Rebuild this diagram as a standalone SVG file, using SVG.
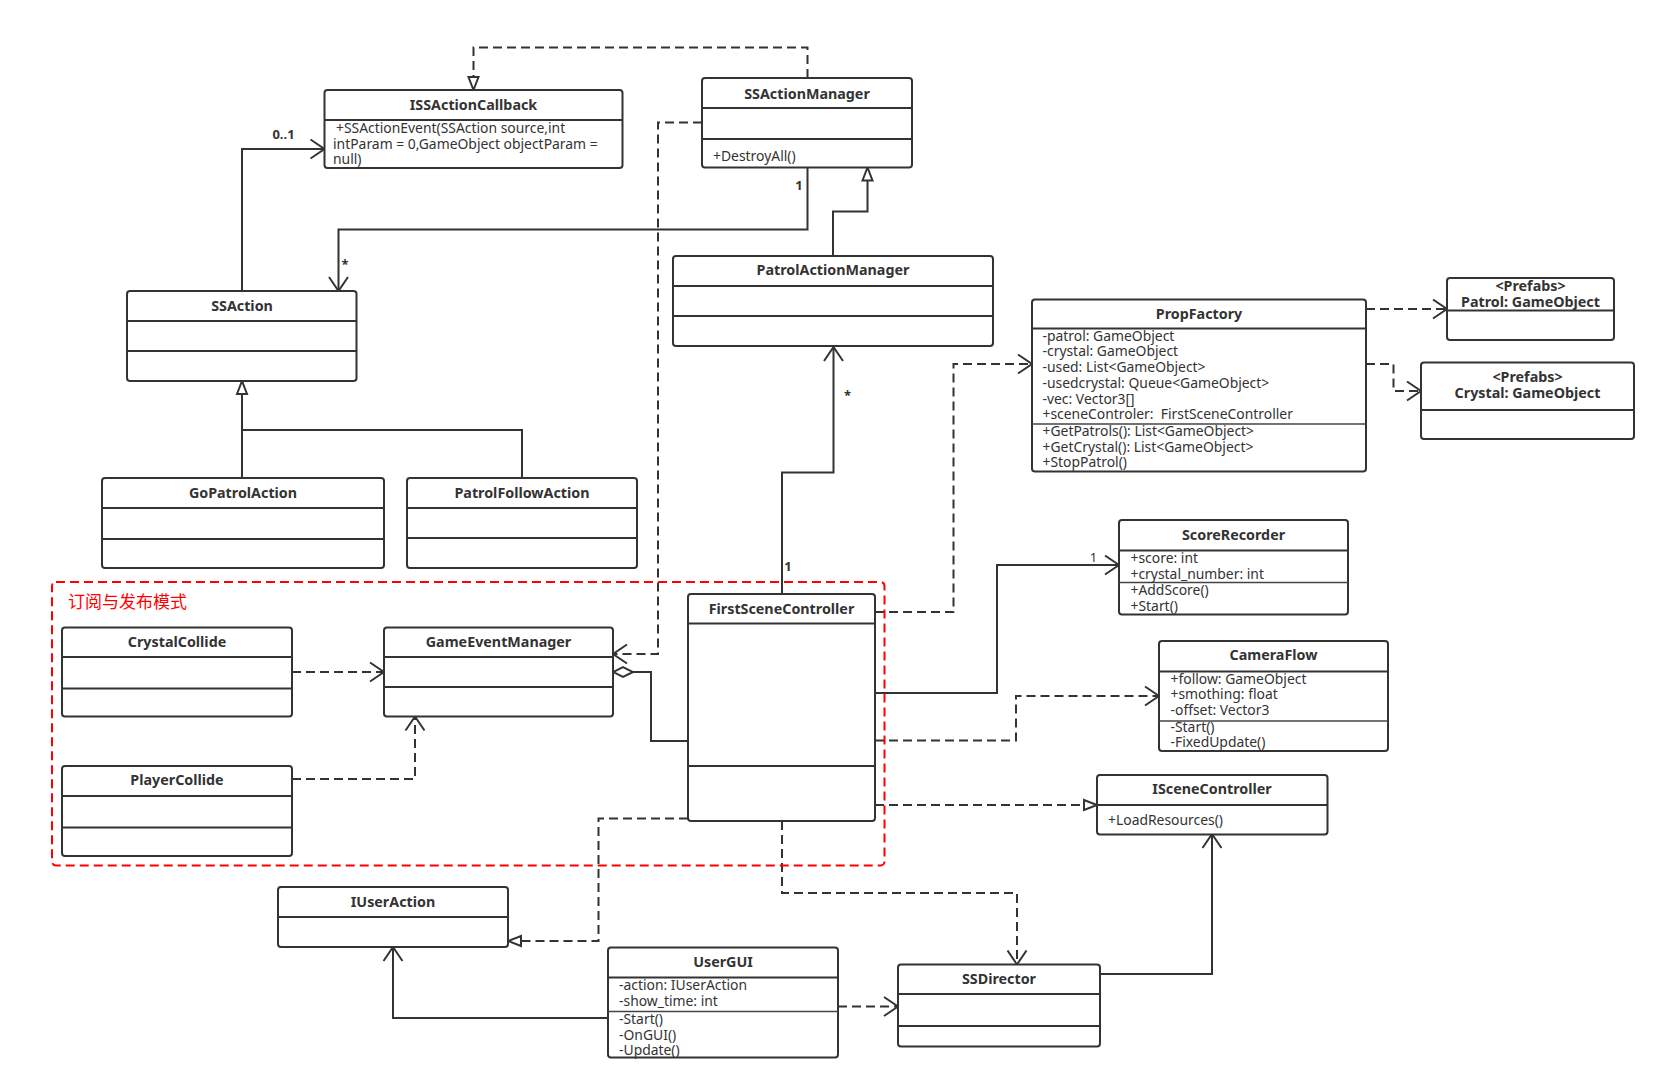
<svg xmlns="http://www.w3.org/2000/svg" width="1667" height="1089" viewBox="0 0 1667 1089">
<style>
.box{fill:#fff;stroke:#333;stroke-width:2}
.dv{stroke:#333;stroke-width:2}
.dl{stroke:#444;stroke-width:1.5}
.t{font-family:"Noto Sans","Liberation Sans",sans-serif;font-weight:bold;font-size:14.3px;fill:#333;text-anchor:middle}
.a{font-family:"Noto Sans","Liberation Sans",sans-serif;font-size:13.9px;fill:#333}
.ml{font-family:"Noto Sans","Liberation Sans",sans-serif;font-weight:bold;font-size:13px;fill:#333;text-anchor:middle}
.mr{font-family:"Noto Sans","Liberation Sans",sans-serif;font-size:13px;fill:#333;text-anchor:middle}
.c{fill:none;stroke:#333;stroke-width:2}
.d{stroke-dasharray:9 5}
.oa{marker-end:url(#open)}
.tr{marker-end:url(#tri)}
.dm{marker-end:url(#dia)}
</style>
<defs>
<marker id="open" markerUnits="userSpaceOnUse" markerWidth="18" markerHeight="22" viewBox="0 0 18 22" refX="15" refY="11" orient="auto">
<path d="M1,1.5 L15,11 L1,20.5" fill="none" stroke="#333" stroke-width="2"/>
</marker>
<marker id="tri" markerUnits="userSpaceOnUse" markerWidth="18" markerHeight="14" viewBox="0 0 18 14" refX="15" refY="7" orient="auto">
<path d="M2,2 L15,7 L2,12 Z" fill="#fff" stroke="#333" stroke-width="2"/>
</marker>
<marker id="dia" markerUnits="userSpaceOnUse" markerWidth="24" markerHeight="14" viewBox="0 0 24 14" refX="22" refY="7" orient="auto">
<path d="M2,7 L12,2 L22,7 L12,12 Z" fill="#fff" stroke="#333" stroke-width="2"/>
</marker>
</defs>
<rect width="1667" height="1089" fill="#fff"/>

<g id="connectors">
<path class="c d tr" d="M807.5,78 V47.5 H473.5 V90"/>
<path class="c oa" d="M242,291 V149 H324.5"/>
<path class="c oa" d="M807.5,167.5 V229.5 H338.5 V291"/>
<path class="c tr" d="M833,256 V211.5 H867.5 V167.5"/>
<path class="c d oa" d="M702,122.5 H658 V654 H613"/>
<path class="c oa" d="M782,594 V472.5 H833.5 V347"/>
<path class="c d oa" d="M875,612 H953.5 V364 H1032"/>
<path class="c d oa" d="M1366,309 H1447"/>
<path class="c d oa" d="M1366,364 H1393.5 V391 H1421"/>
<path class="c oa" d="M875,693 H997 V565 H1119"/>
<path class="c d oa" d="M875,740.5 H1016 V696 H1159"/>
<path class="c d tr" d="M875,805 H1097"/>
<path class="c dm" d="M688,741 H651 V672 H613"/>
<path class="c d tr" d="M688,818.5 H598.5 V941 H508"/>
<path class="c d oa" d="M782,821 V893 H1017 V964.5"/>
<path class="c oa" d="M608,1018 H393 V947"/>
<path class="c d oa" d="M838,1006.5 H898"/>
<path class="c oa" d="M1100,974 H1212 V834"/>
<path class="c d oa" d="M292,672 H384"/>
<path class="c d oa" d="M292,779 H415 V716.5"/>
<path class="c tr" d="M242,478 V381"/>
<path class="c" d="M522,478 V430 H242"/>
<text class="ml" x="283.5" y="139">0..1</text>
<text class="ml" x="799" y="190">1</text>
<text class="ml" x="345" y="269">*</text>
<text class="ml" x="788" y="571">1</text>
<text class="ml" x="847.5" y="400">*</text>
<text class="mr" x="1093.5" y="562">1</text>
</g>

<g id="ISSActionCallback">
<rect class="box" x="324.5" y="90" width="298" height="78" rx="3"/>
<line class="dv" x1="324.5" y1="120" x2="622.5" y2="120"/>
<text class="t" x="473.5" y="110">ISSActionCallback</text>
<text class="a" x="336" y="132.5">+SSActionEvent(SSAction source,int</text>
<text class="a" x="333" y="148.5">intParam = 0,GameObject objectParam =</text>
<text class="a" x="333" y="164">null)</text>
</g>

<g id="SSActionManager">
<rect class="box" x="702" y="78" width="210" height="89.5" rx="3"/>
<line class="dv" x1="702" y1="108" x2="912" y2="108"/>
<line class="dv" x1="702" y1="139" x2="912" y2="139"/>
<text class="t" x="807" y="98.5">SSActionManager</text>
<text class="a" x="713" y="160.5">+DestroyAll()</text>
</g>

<g id="SSAction">
<rect class="box" x="127" y="291" width="229.5" height="90" rx="3"/>
<line class="dv" x1="127" y1="321" x2="356.5" y2="321"/>
<line class="dv" x1="127" y1="351" x2="356.5" y2="351"/>
<text class="t" x="242" y="311">SSAction</text>
</g>

<g id="PatrolActionManager">
<rect class="box" x="673" y="256" width="320" height="90" rx="3"/>
<line class="dv" x1="673" y1="286" x2="993" y2="286"/>
<line class="dv" x1="673" y1="316" x2="993" y2="316"/>
<text class="t" x="833" y="275">PatrolActionManager</text>
</g>

<g id="GoPatrolAction">
<rect class="box" x="102" y="478" width="282" height="90" rx="3"/>
<line class="dv" x1="102" y1="508" x2="384" y2="508"/>
<line class="dv" x1="102" y1="539" x2="384" y2="539"/>
<text class="t" x="243" y="498">GoPatrolAction</text>
</g>

<g id="PatrolFollowAction">
<rect class="box" x="407" y="478" width="230" height="90" rx="3"/>
<line class="dv" x1="407" y1="508" x2="637" y2="508"/>
<line class="dv" x1="407" y1="538" x2="637" y2="538"/>
<text class="t" x="522" y="498">PatrolFollowAction</text>
</g>

<g id="PropFactory">
<rect class="box" x="1032" y="299.5" width="334" height="172" rx="3"/>
<line class="dv" x1="1032" y1="328.5" x2="1366" y2="328.5"/>
<line class="dl" x1="1032" y1="424" x2="1366" y2="424"/>
<text class="t" x="1199" y="319">PropFactory</text>
<text class="a" x="1042.5" y="340.5">-patrol: GameObject</text>
<text class="a" x="1042.5" y="356">-crystal: GameObject</text>
<text class="a" x="1042.5" y="372">-used: List&lt;GameObject&gt;</text>
<text class="a" x="1042.5" y="387.5">-usedcrystal: Queue&lt;GameObject&gt;</text>
<text class="a" x="1042.5" y="403.5">-vec: Vector3[]</text>
<text class="a" x="1042.5" y="419">+sceneControler:&#160; FirstSceneController</text>
<text class="a" x="1042.5" y="435.5">+GetPatrols(): List&lt;GameObject&gt;</text>
<text class="a" x="1042.5" y="451.5">+GetCrystal(): List&lt;GameObject&gt;</text>
<text class="a" x="1042.5" y="467">+StopPatrol()</text>
</g>

<g id="PrefabsPatrol">
<rect class="box" x="1447" y="278" width="167" height="62" rx="3"/>
<line class="dv" x1="1447" y1="310.5" x2="1614" y2="310.5"/>
<text class="t" x="1530.5" y="291">&lt;Prefabs&gt;</text>
<text class="t" x="1530.5" y="306.5">Patrol: GameObject</text>
</g>

<g id="PrefabsCrystal">
<rect class="box" x="1421" y="362.5" width="213" height="76.5" rx="3"/>
<line class="dv" x1="1421" y1="410" x2="1634" y2="410"/>
<text class="t" x="1527.5" y="381.5">&lt;Prefabs&gt;</text>
<text class="t" x="1527.5" y="397.5">Crystal: GameObject</text>
</g>

<g id="ScoreRecorder">
<rect class="box" x="1119" y="520" width="229" height="94.5" rx="3"/>
<line class="dv" x1="1119" y1="550.5" x2="1348" y2="550.5"/>
<line class="dl" x1="1119" y1="582.5" x2="1348" y2="582.5"/>
<text class="t" x="1233.5" y="540">ScoreRecorder</text>
<text class="a" x="1130.5" y="563">+score: int</text>
<text class="a" x="1130.5" y="578.5">+crystal_number: int</text>
<text class="a" x="1130.5" y="595">+AddScore()</text>
<text class="a" x="1130.5" y="610.5">+Start()</text>
</g>

<g id="CameraFlow">
<rect class="box" x="1159" y="641" width="229" height="110" rx="3"/>
<line class="dv" x1="1159" y1="671.5" x2="1388" y2="671.5"/>
<line class="dl" x1="1159" y1="721" x2="1388" y2="721"/>
<text class="t" x="1273.5" y="660">CameraFlow</text>
<text class="a" x="1170.5" y="684">+follow: GameObject</text>
<text class="a" x="1170.5" y="699">+smothing: float</text>
<text class="a" x="1170.5" y="714.5">-offset: Vector3</text>
<text class="a" x="1170.5" y="731.5">-Start()</text>
<text class="a" x="1170.5" y="747">-FixedUpdate()</text>
</g>

<g id="ISceneController">
<rect class="box" x="1097" y="775" width="230.5" height="59.5" rx="3"/>
<line class="dv" x1="1097" y1="805" x2="1327.5" y2="805"/>
<text class="t" x="1212" y="794">ISceneController</text>
<text class="a" x="1108" y="825">+LoadResources()</text>
</g>

<g id="FirstSceneController">
<rect class="box" x="688" y="594" width="187" height="227" rx="3"/>
<line class="dv" x1="688" y1="623.5" x2="875" y2="623.5"/>
<line class="dv" x1="688" y1="766" x2="875" y2="766"/>
<text class="t" x="781.5" y="613.5">FirstSceneController</text>
</g>

<g id="CrystalCollide">
<rect class="box" x="62" y="627.5" width="230" height="89" rx="3"/>
<line class="dv" x1="62" y1="657" x2="292" y2="657"/>
<line class="dv" x1="62" y1="688.5" x2="292" y2="688.5"/>
<text class="t" x="177" y="647">CrystalCollide</text>
</g>

<g id="GameEventManager">
<rect class="box" x="384" y="627.5" width="229" height="89" rx="3"/>
<line class="dv" x1="384" y1="657" x2="613" y2="657"/>
<line class="dv" x1="384" y1="687" x2="613" y2="687"/>
<text class="t" x="498.5" y="647">GameEventManager</text>
</g>

<g id="PlayerCollide">
<rect class="box" x="62" y="766" width="230" height="90" rx="3"/>
<line class="dv" x1="62" y1="796" x2="292" y2="796"/>
<line class="dv" x1="62" y1="827.5" x2="292" y2="827.5"/>
<text class="t" x="177" y="785">PlayerCollide</text>
</g>

<g id="IUserAction">
<rect class="box" x="278" y="887" width="230" height="60" rx="3"/>
<line class="dv" x1="278" y1="917" x2="508" y2="917"/>
<text class="t" x="393" y="907">IUserAction</text>
</g>

<g id="UserGUI">
<rect class="box" x="608" y="947.5" width="230" height="110" rx="3"/>
<line class="dv" x1="608" y1="977.5" x2="838" y2="977.5"/>
<line class="dl" x1="608" y1="1011.5" x2="838" y2="1011.5"/>
<text class="t" x="723" y="967">UserGUI</text>
<text class="a" x="619" y="990">-action: IUserAction</text>
<text class="a" x="619" y="1006">-show_time: int</text>
<text class="a" x="619" y="1024">-Start()</text>
<text class="a" x="619" y="1039.5">-OnGUI()</text>
<text class="a" x="619" y="1055">-Update()</text>
</g>

<g id="SSDirector">
<rect class="box" x="898" y="964.5" width="202" height="82" rx="3"/>
<line class="dv" x1="898" y1="994" x2="1100" y2="994"/>
<line class="dv" x1="898" y1="1026" x2="1100" y2="1026"/>
<text class="t" x="999" y="984">SSDirector</text>
</g>

<g id="pubsub-frame">
<rect x="52" y="582" width="832.5" height="283.5" rx="4" fill="none" stroke="#f00" stroke-width="2" stroke-dasharray="9 5"/>
<text x="68" y="608" font-family="'Noto Sans CJK SC','Noto Sans',sans-serif" font-size="17" fill="#f00">订阅与发布模式</text>
</g>
</svg>
